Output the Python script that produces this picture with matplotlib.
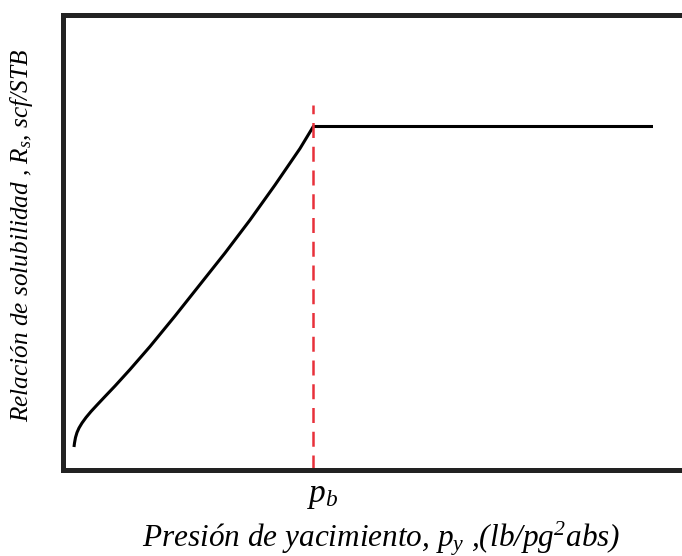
import matplotlib
matplotlib.use("Agg")
import matplotlib.pyplot as plt

# Data (arbitrary units)
pressure = [11.5, 12.0, 13.0, 14.5, 16.5, 19.5, 23.5, 28.5, 34.5, 42.5, 52.5, 67.5, 87.5,
            112.5, 137.5, 162.5, 187.5, 212.5, 237.5, 250.8, 590.5]
rs = [22.5, 26.5, 32.0, 37.0, 41.5, 46.5, 52.0, 58.0, 64.5, 73.0, 83.5, 100.0, 123.0,
      153.5, 185.0, 216.5, 249.5, 284.5, 321.0, 343.0, 343.0]
pb = 250.8
pb_line_top = 364.5

plt.rcParams['mathtext.fontset'] = 'custom'
plt.rcParams['mathtext.it'] = 'Liberation Serif:italic'
plt.rcParams['mathtext.rm'] = 'Liberation Serif:italic'

fig = plt.figure(figsize=(6.82, 5.56), dpi=100)
W, H = 682, 556
left, right, top, bottom = 62.5, 700, 14.5, 469.5
ax = fig.add_axes([left / W, 1 - bottom / H, (right - left) / W, (bottom - top) / H])
ax.set_xlim(0, right - left)
ax.set_ylim(0, bottom - top)

ax.plot(pressure, rs, color='black', lw=2.2, solid_capstyle='butt', solid_joinstyle='round')
ax.plot([pb, pb], [0, pb_line_top], color='#e8303a', lw=1.8, dashes=(6, 3.5))

for s in ['left', 'top', 'bottom']:
    ax.spines[s].set_linewidth(3.6)
    ax.spines[s].set_color('#222222')
ax.spines['right'].set_visible(False)
ax.set_xticks([])
ax.set_yticks([])

ax.text(pb + 10, -25, r'$p_b$', ha='center', va='center', fontsize=24,
        transform=ax.transData, clip_on=False)

fig.text(381 / W, 1 - 546 / H, r'Presión de yacimiento, $p_y$ ,(lb/pg$^2$abs)',
         ha='center', va='baseline', fontsize=22.5, family='Liberation Serif', style='italic')
fig.text(22 / W, 1 - 235 / H, r'Relación de solubilidad , $R_s$, scf/STB',
         ha='center', va='center', rotation=90, fontsize=18.2, family='Liberation Serif', style='italic')

fig.savefig('out.png', dpi=100)
